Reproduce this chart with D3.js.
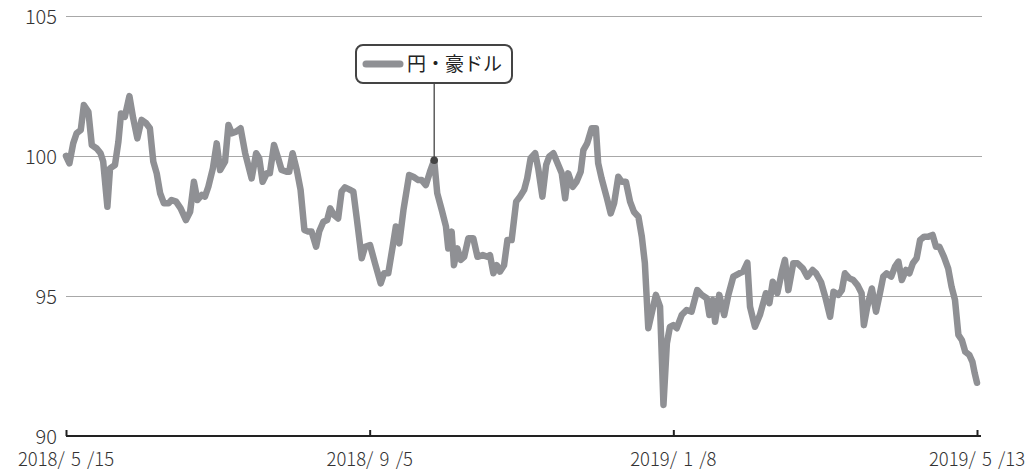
<!DOCTYPE html>
<html><head><meta charset="utf-8">
<script src="https://cdn.jsdelivr.net/npm/d3@7"></script>
<style>
body{margin:0;background:#fff;}
text{font-family:"Noto Sans CJK JP","Noto Sans",sans-serif;}
</style></head>
<body><svg id="c" width="1032" height="470"></svg>
<script>
// series name
const seriesName = "円・豪ドル";
// x positions as trading-day index (0 .. 240)
const dayIndex = [0,0.9,1.9,2.8,3.9,4.7,5.9,6.8,8.1,9.1,9.8,10.9,11.6,12.9,13.8,14.5,15.5,16.7,17.7,18.8,19.9,21.1,22.1,23.0,23.9,24.8,25.8,27.0,27.8,29.0,30.2,31.6,32.7,33.7,34.6,35.8,36.6,37.5,38.7,39.7,40.6,41.9,42.8,43.7,44.8,46.0,47.2,48.9,50.1,50.9,51.8,52.9,53.7,54.8,55.9,56.8,58.1,58.8,59.7,60.8,61.8,62.8,63.8,64.7,65.9,66.7,67.8,68.8,69.6,70.6,71.7,72.6,73.5,74.6,75.7,76.6,77.9,78.8,80.1,81.4,82.9,83.8,84.9,86.2,86.9,87.8,88.9,90.4,91.5,92.8,93.7,94.8,95.9,97.0,97.8,99.0,100.1,100.7,101.6,102.2,103.1,104.0,104.9,106.0,107.3,108.4,109.8,111.0,111.7,112.6,113.5,114.3,115.4,116.3,117.4,118.6,119.6,120.7,121.5,122.4,123.6,124.4,125.5,126.5,127.3,128.4,129.5,130.6,131.5,132.3,133.5,134.5,135.6,136.3,137.3,138.5,139.6,140.2,141.1,142.5,143.5,144.4,145.5,146.4,147.5,148.6,149.6,150.8,151.7,152.5,153.4,154.3,155.4,156.5,157.4,158.3,159.1,160.0,160.9,162.2,163.5,164.8,166.3,167.5,168.8,169.5,170.4,171.0,172.1,173.4,174.5,175.8,177.4,178.4,179.5,180.2,181.5,182.8,184.4,185.3,186.2,187.4,188.6,189.4,190.3,191.6,192.7,194.1,195.3,196.7,197.6,198.9,200.0,201.3,202.2,203.5,204.4,205.2,206.4,207.4,208.5,209.6,210.2,211.1,212.3,213.4,214.5,215.3,216.2,217.4,218.4,219.3,220.2,221.3,222.2,223.1,224.1,225.0,226.1,227.2,228.3,229.2,230.1,231.3,232.4,233.3,234.2,235.1,236.0,236.9,238.0,238.8,239.4,240.0];
// exchange rate values
const rateValues = [100.0,99.74,100.45,100.81,100.93,101.82,101.58,100.39,100.27,100.1,99.8,98.19,99.56,99.68,100.51,101.52,101.4,102.14,101.35,100.63,101.29,101.17,100.99,99.8,99.38,98.67,98.31,98.31,98.43,98.37,98.13,97.71,98.01,99.08,98.43,98.61,98.55,98.9,99.56,100.45,99.5,99.8,101.11,100.81,100.87,100.99,100.1,99.2,100.1,99.92,99.08,99.38,99.38,100.39,99.92,99.5,99.44,99.44,100.1,99.5,98.79,97.36,97.3,97.3,96.76,97.3,97.65,97.71,98.13,97.89,97.77,98.73,98.88,98.81,98.73,97.77,96.35,96.76,96.82,96.17,95.45,95.81,95.81,96.88,97.48,96.88,98.07,99.32,99.26,99.14,99.14,98.96,99.44,99.85,98.67,98.07,97.48,96.7,97.3,96.1,96.7,96.29,96.4,97.06,97.06,96.4,96.46,96.4,96.46,95.81,96.1,95.87,96.1,97.0,97.0,98.37,98.55,98.79,99.2,99.92,100.1,99.56,98.55,99.68,99.98,100.1,99.74,99.38,98.49,99.38,98.9,99.08,99.44,100.21,100.45,100.99,100.99,99.74,99.2,98.49,97.95,98.31,99.26,99.08,99.08,98.37,98.01,97.83,97.12,96.17,93.85,94.38,95.04,94.62,91.11,93.31,93.9,93.96,93.85,94.32,94.5,94.44,95.21,95.04,94.92,94.32,94.86,94.08,95.04,94.32,95.04,95.69,95.81,95.87,96.19,94.62,93.9,94.32,95.1,94.74,95.51,95.1,95.87,96.29,95.21,96.17,96.17,95.99,95.69,95.93,95.81,95.5,94.98,94.26,95.15,95.04,95.21,95.81,95.63,95.57,95.39,95.1,93.96,94.62,95.27,94.44,95.15,95.69,95.81,95.69,96.05,96.23,95.57,95.93,95.81,96.17,96.35,97.0,97.12,97.12,97.18,96.76,96.76,96.4,95.99,95.33,94.86,93.61,93.43,93.01,92.89,92.65,92.24,91.9];
// axis ticks
const xTickIndex = [0,80,160,240];
const xTickLabels = ["2018/\u20045\u2004/15","2018/\u20049\u2004/5","2019/\u20041\u2004/8","2019/\u20045\u2004/13"];
const yTicks = [90,95,100,105];
const legendPointIndex = 93; // position in arrays of point the legend points to

const svg = d3.select("#c");
const x = d3.scaleLinear().domain([0,240]).range([66,977]);
const y = d3.scaleLinear().domain([90,105]).range([436,16]);

// grid lines
svg.append("g").selectAll("line").data(yTicks.filter(d=>d>90)).join("line")
  .attr("x1",66).attr("x2",982)
  .attr("y1",d=>Math.round(y(d))+0.5).attr("y2",d=>Math.round(y(d))+0.5)
  .attr("stroke","#a8a8a8").attr("stroke-width",1);

// y labels
svg.append("g").selectAll("text").data(yTicks).join("text")
  .attr("x",57).attr("y",d=>y(d)+8)
  .attr("text-anchor","end").attr("font-size",20).attr("font-weight",300).attr("fill","#333")
  .text(d=>d);

// line
const data = dayIndex.map((d,i)=>({i:d,v:rateValues[i]}));
svg.append("path").datum(data)
  .attr("fill","none").attr("stroke","#8f9094").attr("stroke-width",6.5)
  .attr("stroke-linejoin","round").attr("stroke-linecap","round")
  .attr("d",d3.line().x(d=>x(d.i)).y(d=>y(d.v)));

// x axis
const xAxis = d3.axisTop(x).tickValues(xTickIndex).tickSize(6).tickFormat("");
const gx = svg.append("g").attr("transform","translate(0,436)").call(xAxis);
gx.select(".domain").attr("stroke","#222").attr("stroke-width",2).attr("d","M66,0H981");
gx.selectAll(".tick line").attr("stroke","#222").attr("stroke-width",2);
svg.append("g").selectAll("text").data(xTickIndex).join("text")
  .attr("x",d=>x(d)).attr("y",466).attr("text-anchor","middle")
  .attr("font-size",18.5).attr("font-weight",300).attr("fill","#333")
  .text((d,i)=>xTickLabels[i]);

// legend callout
const pt = data[legendPointIndex];
const px = x(pt.i), py = y(pt.v);
svg.append("line").attr("x1",px).attr("x2",px).attr("y1",83).attr("y2",py)
  .attr("stroke","#444").attr("stroke-width",1.3);
svg.append("circle").attr("cx",px).attr("cy",py).attr("r",3.8).attr("fill","#444");
svg.append("rect").attr("x",356).attr("y",45).attr("width",156).attr("height",38)
  .attr("rx",7).attr("fill","#fff").attr("stroke","#444").attr("stroke-width",2);
svg.append("line").attr("x1",366).attr("x2",400).attr("y1",64).attr("y2",64)
  .attr("stroke","#8f9094").attr("stroke-width",7).attr("stroke-linecap","round");
svg.append("text").attr("x",407).attr("y",64).attr("dy","0.36em")
  .attr("font-size",19).attr("fill","#222").text(seriesName);
</script></body></html>
